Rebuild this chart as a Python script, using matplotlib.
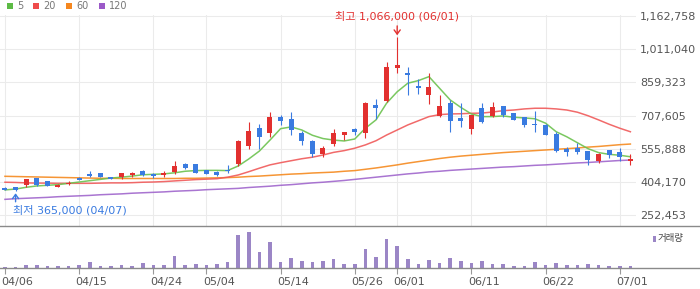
import numpy as np
import matplotlib
matplotlib.use('Agg')
import matplotlib.pyplot as plt
from matplotlib.patches import Rectangle
from matplotlib.lines import Line2D
from matplotlib.transforms import ScaledTranslation

plt.rcParams['font.family'] = ['DejaVu Sans', 'Noto Sans CJK KR']

# ---- data ----
dates = ['04/06', '04/07', '04/08', '04/09', '04/10', '04/13', '04/14',
         '04/15', '04/16', '04/17', '04/20', '04/21', '04/22', '04/23',
         '04/24', '04/27', '04/28', '04/29', '04/30',
         '05/04', '05/06', '05/07', '05/08', '05/11', '05/12', '05/13',
         '05/14', '05/15', '05/18', '05/19', '05/20', '05/21', '05/22',
         '05/26', '05/27', '05/28', '05/29',
         '06/01', '06/02', '06/04', '06/05', '06/08', '06/09', '06/10',
         '06/11', '06/12', '06/15', '06/16', '06/17', '06/18', '06/19',
         '06/22', '06/23', '06/24', '06/25', '06/26', '06/29', '06/30',
         '07/01', '07/02']

opens = [379000, 380000, 391000, 422000, 408000, 384000, 397000, 420000, 443000, 446000,
         429000, 429000, 436000, 457000, 443000, 440000, 452000, 487000, 487000, 460000,
         451000, 459000, 487000, 569000, 651000, 630000, 701000, 692000, 627000, 592000,
         533000, 578000, 619000, 647000, 630000, 755000, 774000, 926000, 902000, 842000,
         800000, 706000, 765000, 697000, 645000, 741000, 706000, 750000, 718000, 700000,
         671000, 665000, 624000, 555000, 560000, 546000, 501000, 551000, 542000, 502000]
highs = [384000, 383000, 418000, 425000, 409000, 394000, 410000, 426000, 454000, 447000,
         430000, 447000, 451000, 461000, 444000, 454000, 501000, 490000, 488000, 461000,
         457000, 483000, 596000, 678000, 669000, 724000, 710000, 724000, 637000, 596000,
         569000, 647000, 633000, 652000, 770000, 782000, 952000, 1066000, 929000, 874000,
         902000, 801000, 779000, 764000, 710000, 764000, 770000, 752000, 719000, 701000,
         729000, 667000, 634000, 566000, 584000, 547000, 539000, 552000, 560000, 533000]
lows = [367000, 365000, 384000, 387000, 387000, 381000, 391000, 413000, 429000, 427000,
        419000, 420000, 426000, 432000, 423000, 429000, 442000, 464000, 446000, 442000,
        432000, 445000, 478000, 557000, 554000, 611000, 665000, 621000, 575000, 518000,
        520000, 570000, 596000, 619000, 606000, 692000, 768000, 903000, 801000, 807000,
        760000, 700000, 634000, 657000, 625000, 675000, 700000, 700000, 688000, 657000,
        633000, 620000, 542000, 525000, 534000, 484000, 493000, 514000, 501000, 483000]
closes = [369000, 370000, 417000, 391000, 388000, 393000, 400000, 418000, 432000, 428000,
          420000, 446000, 447000, 438000, 431000, 443000, 478000, 470000, 447000, 443000,
          437000, 453000, 592000, 637000, 611000, 700000, 684000, 643000, 593000, 534000,
          559000, 627000, 632000, 634000, 765000, 744000, 929000, 938000, 894000, 833000,
          838000, 751000, 684000, 682000, 709000, 679000, 745000, 712000, 689000, 666000,
          663000, 621000, 548000, 542000, 542000, 505000, 533000, 528000, 519000, 509000]
volumes = [4, 4, 10, 10, 7, 7, 7, 10, 19, 7, 7, 10, 7, 16, 10, 10, 37, 10, 13, 10,
           13, 19, 100, 109, 49, 79, 19, 31, 22, 19, 22, 28, 13, 13, 58, 34, 88, 67, 28, 13,
           25, 16, 31, 22, 16, 22, 13, 13, 7, 7, 19, 10, 16, 10, 10, 13, 10, 7, 7, 7]

ma5 = [369000, 373000, 381000, 387000, 390000, 393000, 399000, 405000, 411000, 417000,
       423000, 427000, 432000, 438000, 440000, 442000, 447000, 454000, 457000, 458000,
       458000, 457000, 478000, 510000, 546000, 596000, 648000, 656000, 642000, 618000,
       603000, 596000, 592000, 601000, 650000, 688000, 764000, 816000, 855000, 867000,
       885000, 832000, 779000, 745000, 715000, 703000, 703000, 706000, 700000, 697000,
       693000, 673000, 634000, 611000, 584000, 557000, 539000, 531000, 527000, 520000]
ma20 = [404000, 403000, 401000, 400000, 400000, 399000, 399000, 399000, 399000, 400000,
        401000, 401000, 402000, 404000, 405000, 407000, 410000, 413000, 416000, 418000,
        420000, 427000, 437000, 452000, 468000, 483000, 493000, 502000, 511000, 518000,
        528000, 540000, 548000, 559000, 574000, 593000, 619000, 642000, 665000, 684000,
        703000, 712000, 715000, 716000, 718000, 719000, 724000, 730000, 733000, 738000,
        741000, 741000, 738000, 733000, 723000, 707000, 688000, 668000, 650000, 634000]
ma60 = [431000, 430000, 429000, 428000, 427000, 426000, 425000, 424000, 423000, 422000,
        422000, 421000, 421000, 421000, 421000, 421000, 421000, 422000, 422000, 423000,
        424000, 425000, 427000, 430000, 432000, 435000, 438000, 441000, 443000, 446000,
        448000, 450000, 454000, 457000, 463000, 469000, 476000, 483000, 491000, 498000,
        505000, 512000, 518000, 523000, 527000, 531000, 535000, 539000, 542000, 545000,
        548000, 551000, 554000, 557000, 560000, 564000, 567000, 571000, 575000, 578000]
ma120 = [326000, 329000, 331000, 333000, 335000, 338000, 340000, 342000, 344000, 347000,
         349000, 351000, 354000, 356000, 358000, 360000, 363000, 365000, 367000, 370000,
         372000, 374000, 376000, 380000, 383000, 386000, 390000, 393000, 397000, 401000,
         404000, 408000, 412000, 417000, 422000, 427000, 432000, 437000, 442000, 446000,
         451000, 454000, 458000, 461000, 464000, 467000, 470000, 473000, 475000, 478000,
         481000, 483000, 486000, 489000, 492000, 494000, 497000, 500000, 503000, 505000]

tick_dates = ['04/06', '04/15', '04/24', '05/04', '05/14', '05/26', '06/01', '06/11', '06/22', '07/01']
price_ticks = [252453, 404170, 555888, 707605, 859323, 1011040, 1162758]

RED = '#e2302f'
BLUE = '#3a7be0'
VOL = '#9b86c6'
MA_COLORS = ['#6cc24f', '#f05a5a', '#f58a1f', '#a066cc']
GRID = '#ebebeb'
TXT = '#555555'

W, H = 700, 289
fx = lambda px: px / W
fy = lambda py: 1 - py / H

fig = plt.figure(figsize=(7, 2.89), dpi=100)
ax = fig.add_axes([0, fy(226), fx(636), (226 - 15.4) / H])
axv = fig.add_axes([0, fy(268), fx(636), 42 / H])

x = np.arange(len(dates))
o = np.array(opens); h = np.array(highs); l = np.array(lows); c = np.array(closes)
cols = np.where(c >= o, RED, BLUE)
tick_idx = [dates.index(d) for d in tick_dates]

# moving averages
for vals, col in zip([ma120, ma60, ma20, ma5], MA_COLORS[::-1]):
    ax.plot(x, vals, color=col, lw=1.1, alpha=0.9, zorder=2)

# candles
ax.vlines(x, l, h, colors=cols, lw=0.8, zorder=3)
body = np.abs(c - o)
body_h = np.maximum(body, 6000)
body_b = np.minimum(o, c) - (body_h - body) / 2
ax.bar(x, body_h, bottom=body_b, width=0.47, color=cols, lw=0, zorder=4)

ax.set_xlim(-0.47, 59.53)
ax.set_ylim(204600, 1164000)
ax.set_yticks(price_ticks)
ax.set_yticklabels([f'{v:,}' for v in price_ticks])
ax.yaxis.tick_right()
ax.tick_params(axis='y', length=0, pad=3, labelsize=8, labelcolor=TXT)
ax.set_xticks(tick_idx)
ax.tick_params(axis='x', length=0, labelbottom=False)
ax.grid(True, color=GRID, lw=0.75, zorder=0)
ax.set_axisbelow(True)
for s in ax.spines.values():
    s.set_visible(False)

# high / low marks
hi = int(np.argmax(h)); lo = int(np.argmin(l))
ax.annotate('', xy=(hi, h[hi]), xytext=(0, 11), textcoords='offset pixels',
            arrowprops=dict(arrowstyle='->,head_length=0.3,head_width=0.22', color=RED,
                            lw=1, shrinkA=0, shrinkB=1.2))
ax.annotate(f'최고 {h[hi]:,} ({dates[hi]})', xy=(hi, h[hi]), xytext=(0, 20.5),
            textcoords='offset pixels', ha='center', va='center', color=RED, fontsize=8)
ax.annotate('', xy=(lo, l[lo]), xytext=(0, -11), textcoords='offset pixels',
            arrowprops=dict(arrowstyle='->,head_length=0.3,head_width=0.22', color=BLUE,
                            lw=1, shrinkA=0, shrinkB=1.8))
ax.annotate(f'최저 {l[lo]:,} ({dates[lo]})', xy=(lo, l[lo]), xytext=(-2.6, -19.2),
            textcoords='offset pixels', ha='left', va='center', color=BLUE, fontsize=8)

# volume
axv.bar(x, volumes, width=0.33, color=VOL, lw=0)
axv.set_xlim(-0.47, 59.53)
axv.set_ylim(0, 127)
axv.set_yticks([])
axv.set_xticks(tick_idx)
axv.set_xticklabels(tick_dates)
axv.tick_params(axis='x', length=4, width=0.8, color='#999999', pad=2.5,
                labelsize=8, labelcolor=TXT)
off = ScaledTranslation(-3.5 / 100, 0, fig.dpi_scale_trans)
for lab in axv.get_xticklabels():
    lab.set_ha('left')
    lab.set_transform(lab.get_transform() + off)
for s in axv.spines.values():
    s.set_visible(False)

# separators
fig.add_artist(Line2D([0, 1], [fy(226), fy(226)], transform=fig.transFigure, color='#8a8a8a', lw=1.0))
fig.add_artist(Line2D([0, 1], [fy(268), fy(268)], transform=fig.transFigure, color='#8a8a8a', lw=1.0))

# legends
for px, lab, col in zip([7, 33, 66, 99], ['5', '20', '60', '120'],
                        ['#5dbb46', '#ef4b4b', '#f5871f', '#9b59c8']):
    fig.add_artist(Rectangle((fx(px), fy(9)), 6 / W, 6 / H, transform=fig.transFigure,
                             color=col, lw=0))
    fig.text(fx(px + 10), fy(6), lab, fontsize=7, color='#777777', va='center', ha='left')

fig.add_artist(Rectangle((fx(652.5), fy(241.7)), 3 / W, 5.7 / H, transform=fig.transFigure,
                         color=VOL, lw=0))
fig.text(fx(657.5), fy(238.7), '거래량', fontsize=6.8, color='#444444', va='center', ha='left')

fig.savefig('out.png', dpi=100)
